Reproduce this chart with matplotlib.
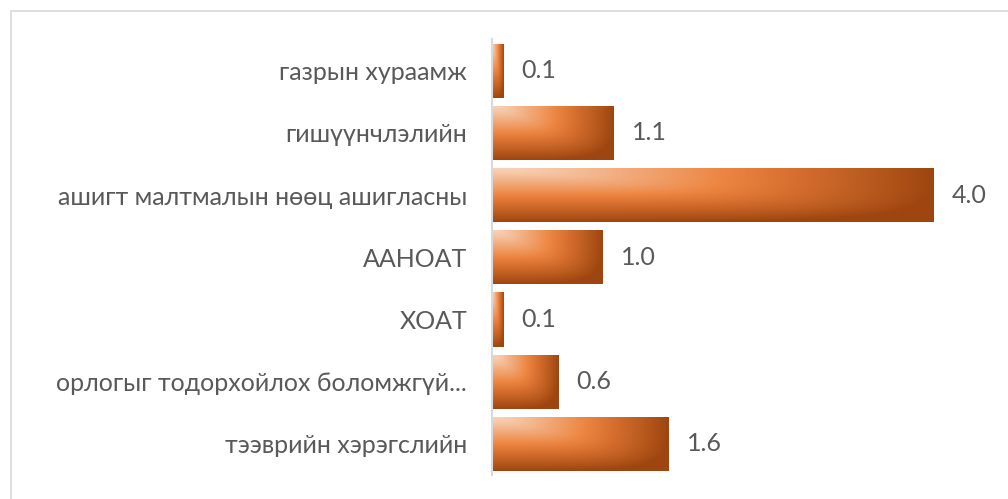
import numpy as np
import matplotlib.pyplot as plt
from matplotlib.colors import LinearSegmentedColormap
from matplotlib.patches import Rectangle

categories = [
    "газрын хураамж",
    "гишүүнчлэлийн",
    "ашигт малтмалын нөөц ашигласны",
    "ААНОАТ",
    "ХОАТ",
    "орлогыг тодорхойлох боломжгүй...",
    "тээврийн хэрэгслийн",
]
values = [0.1, 1.1, 4.0, 1.0, 0.1, 0.6, 1.6]

TEXT = "#595959"
GRID = "#d9d9d9"
FONT = ["Lato", "Open Sans", "DejaVu Sans"]

plt.rcParams["font.family"] = FONT

fig = plt.figure(figsize=(10.08, 4.99), dpi=100)
# light frame, cut off on the right and bottom like the screenshot
fig.patches.append(Rectangle((10.5 / 1008, -0.1), 1.2, (499 - 11.5) / 499 + 0.1,
                             transform=fig.transFigure, fill=False,
                             edgecolor=GRID, linewidth=1.2))

ax = fig.add_axes([492 / 1008, 1 - 475 / 499, (989 - 492) / 1008, (475 - 39.5) / 499])

y = np.arange(len(categories))
bars = ax.barh(y, values, height=0.87, color="#e0793a", linewidth=0)

cmap = LinearSegmentedColormap.from_list(
    "bar", [(0.0, "#f8d3b8"), (0.2, "#f2ab7c"), (0.42, "#ed8642"),
            (0.62, "#d56d2e"), (0.82, "#b85a1e"), (1.0, "#9e4510")])
nx, ny = 200, 60
gx = np.linspace(0, 1, nx)[None, :]
gy = np.linspace(0, 1, ny)[:, None]  # 0 = top, 1 = bottom
fx = gx ** 1.32
fy = gy ** 1.25
u = np.clip((fx ** 4 + fy ** 4) ** 0.25, 0, 1)
for b in bars:
    x0, y0 = b.get_x(), b.get_y()
    w, h = b.get_width(), b.get_height()
    im = ax.imshow(u, cmap=cmap, vmin=0, vmax=1, aspect="auto",
                   extent=(x0, x0 + w, y0 + h, y0), interpolation="bilinear",
                   zorder=2)
    im.set_clip_path(b)

for yi, v in zip(y, values):
    ax.annotate(f"{v:.1f}", (v, yi), xytext=(13, 0), textcoords="offset points",
                ha="left", va="center", fontsize=18, color=TEXT)

ax.set_xlim(0, 4.5)
ax.set_ylim(len(categories) - 0.5, -0.5)
ax.set_yticks(y)
ax.set_yticklabels(categories, fontsize=18, color=TEXT)
ax.tick_params(axis="y", length=0, pad=18)
ax.set_xticks([])
for s in ["top", "right", "bottom"]:
    ax.spines[s].set_visible(False)
ax.spines["left"].set_color(GRID)
ax.spines["left"].set_linewidth(1.5)
ax.set_facecolor("none")

fig.savefig("out.png", dpi=100)
